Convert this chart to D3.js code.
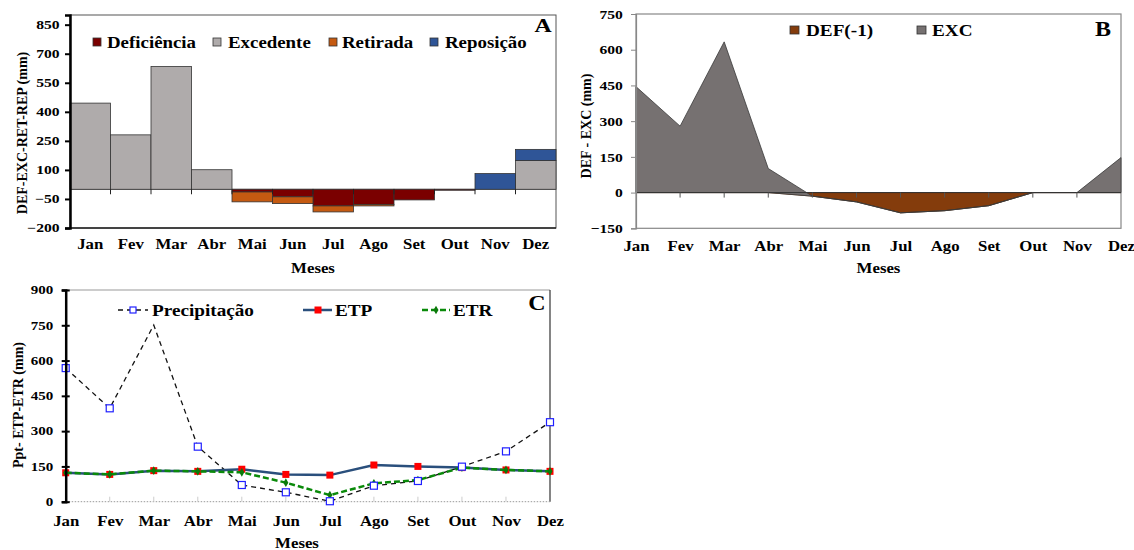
<!DOCTYPE html>
<html>
<head>
<meta charset="utf-8">
<script src="https://cdn.jsdelivr.net/npm/d3@7"></script>
<style>
  body { margin: 0; background: #fff; }
  svg text { font-family: "Liberation Serif", "Times New Roman", serif; font-weight: bold; fill: #000; }
</style>
</head>
<body>
<svg id="chart" width="1134" height="550"></svg>
<script>
// months
const meses = ["Jan","Fev","Mar","Abr","Mai","Jun","Jul","Ago","Set","Out","Nov","Dez"];

// A - balance hidrico (mm)
const deficiencia = [0, 0, 0, 0, -14, -39, -86, -78, -55, -1, 0, 0];
const excedente   = [445, 281, 634, 101, 0, 0, 0, 0, 0, 0, 0, 149];
const retirada    = [0, 0, 0, 0, -51, -35, -31, -8, 0, 0, 0, 0];
const reposicao   = [0, 0, 0, 0, 0, 0, 0, 0, 0, 0, 81, 57];
const ticksA = [-200, -50, 100, 250, 400, 550, 700, 850];

// B - DEF(-1) and EXC (mm)
const defB = [0, 0, 0, 0, -15, -39, -85, -76, -55, 0, 0, 0];
const excB = [445, 279, 633, 101, 0, 0, 0, 0, 0, 0, 0, 147];
const ticksB = [-150, 0, 150, 300, 450, 600, 750];

// C - Precipitacao, ETP, ETR (mm)
const precipitacao = [568, 397, 751, 234, 71, 40, 2, 68, 88, 149, 214, 338];
const etp = [123, 116, 132, 129, 138, 116, 113, 156, 150, 145, 135, 129];
const etr = [123, 116, 132, 129, 125, 81, 28, 78, 92, 145, 135, 129];
const ticksC = [0, 150, 300, 450, 600, 750, 900];

const svg = d3.select("#chart");
svg.append("rect").attr("width", 1134).attr("height", 550).attr("fill", "#fff");

// text stretched a bit horizontally like the original picture
function txt(sel, x, y, s, size, anchor, sx) {
    return sel.append("text")
        .attr("transform", `translate(${x},${y}) scale(${sx || 1.2},1)`)
        .attr("text-anchor", anchor || "start")
        .attr("font-size", size)
        .text(s);
}
function ytitle(sel, x, y, s) {
    sel.append("text")
        .attr("transform", `translate(${x},${y}) rotate(-90)`)
        .attr("text-anchor", "middle")
        .attr("font-size", 14)
        .text(s);
}

// ================= A =================
{
    const L = 70, R = 556, T = 15, B = 228;
    const g = svg.append("g");
    const x = d3.scaleBand().domain(meses).range([L, R]).padding(0);
    const y = d3.scaleLinear().domain([-200, 900]).range([B, T]);

    const keys = ["Deficiência", "Excedente", "Retirada", "Reposição"];
    const colors = {"Deficiência": "#7a0000", "Excedente": "#afabab", "Retirada": "#c55a11", "Reposição": "#2f5597"};
    const rows = meses.map((m, i) => ({
        mes: m, "Deficiência": deficiencia[i], "Excedente": excedente[i],
        "Retirada": retirada[i], "Reposição": reposicao[i]
    }));
    const series = d3.stack().keys(keys).offset(d3.stackOffsetDiverging)(rows);

    // frame
    g.append("rect").attr("x", L).attr("y", T).attr("width", R - L).attr("height", B - T)
        .attr("fill", "none").attr("stroke", "#555").attr("stroke-width", 1);
    g.append("line").attr("x1", L).attr("x2", R).attr("y1", B).attr("y2", B)
        .attr("stroke", "#222").attr("stroke-width", 1.5);

    // zero line
    g.append("line").attr("x1", L).attr("x2", R).attr("y1", y(0)).attr("y2", y(0))
        .attr("stroke", "#666").attr("stroke-width", 1);

    series.forEach(s => {
        g.append("g").selectAll("rect").data(s.filter(d => d[1] !== d[0])).join("rect")
            .attr("x", d => x(d.data.mes))
            .attr("width", x.bandwidth())
            .attr("y", d => y(Math.max(d[0], d[1])))
            .attr("height", d => Math.max(1, Math.abs(y(d[0]) - y(d[1]))))
            .attr("fill", colors[s.key])
            .attr("stroke", "#333").attr("stroke-width", 0.8);
    });

    // category boundary ticks at zero
    g.append("g").selectAll("line").data(meses.slice(1)).join("line")
        .attr("x1", d => x(d)).attr("x2", d => x(d))
        .attr("y1", y(0)).attr("y2", y(0) + 5)
        .attr("stroke", "#222").attr("stroke-width", 1);

    // y axis
    const ya = g.append("g").attr("transform", `translate(${L},0)`)
        .call(d3.axisLeft(y).tickValues(ticksA).tickSize(5).tickPadding(3).tickFormat(d3.format("d")));
    ya.select(".domain").attr("stroke", "#000").attr("stroke-width", 2.5);
    ya.selectAll(".tick line").attr("stroke", "#000").attr("stroke-width", 2);
    ya.selectAll(".tick text").attr("font-size", 12).attr("font-family", null)
        .attr("transform", "scale(1.3,1)");

    // month labels
    const xa = g.append("g").attr("transform", `translate(0,${249 - 13})`)
        .call(d3.axisBottom(x).tickSize(0).tickPadding(3));
    xa.select(".domain").remove();
    xa.selectAll(".tick text").attr("font-size", 14).attr("font-family", null)
        .attr("transform", "scale(1.2,1)");

    txt(g, (L + R) / 2, 273, "Meses", 14, "middle");
    ytitle(g, 27, 133, "DEF-EXC-RET-REP (mm)");

    // legend
    const legX = [[93, 107], [213, 228], [329, 342], [430, 445]];
    keys.forEach((k, i) => {
        g.append("rect").attr("x", legX[i][0]).attr("y", 38).attr("width", 8).attr("height", 8)
            .attr("fill", colors[k]).attr("stroke", "#333").attr("stroke-width", 0.8);
        txt(g, legX[i][1], 47.5, k, 16, "start", 1.18);
    });
    txt(g, 543, 32, "A", 19, "middle", 1.25);
}

// ================= B =================
{
    const L = 636, R = 1121, T = 14, B = 228.3;
    const g = svg.append("g");
    const x = d3.scalePoint().domain(meses).range([L, R]);
    const y = d3.scaleLinear().domain([-150, 750]).range([B, T]);

    const rows = meses.map((m, i) => ({mes: m, def: defB[i], exc: excB[i]}));
    const series = d3.stack().keys(["def", "exc"]).offset(d3.stackOffsetNone)(rows);
    const fills = {def: "#843c0c", exc: "#767171"};
    const strokes = {def: "#5a2a08", exc: "#3a3a3a"};

    g.append("rect").attr("x", L).attr("y", T).attr("width", R - L).attr("height", B - T)
        .attr("fill", "none").attr("stroke", "#888").attr("stroke-width", 1.2);

    const area = d3.area()
        .x(d => x(d.data.mes))
        .y0(d => y(d[0]))
        .y1(d => y(d[1]));
    series.forEach(s => {
        g.append("path").datum(s).attr("d", area)
            .attr("fill", fills[s.key]).attr("stroke", strokes[s.key]).attr("stroke-width", 0.8);
    });

    // zero line with ticks
    g.append("line").attr("x1", L).attr("x2", R).attr("y1", y(0)).attr("y2", y(0))
        .attr("stroke", "#333").attr("stroke-width", 1);
    g.append("g").selectAll("line").data(meses.slice(1, 11)).join("line")
        .attr("x1", d => x(d)).attr("x2", d => x(d))
        .attr("y1", y(0)).attr("y2", y(0) + 5)
        .attr("stroke", "#555").attr("stroke-width", 1);

    const ya = g.append("g").attr("transform", `translate(${L},0)`)
        .call(d3.axisLeft(y).tickValues(ticksB).tickSize(5).tickPadding(6));
    ya.select(".domain").attr("stroke", "#888").attr("stroke-width", 1.2);
    ya.selectAll(".tick line").attr("stroke", "#888");
    ya.selectAll(".tick text").attr("font-size", 13).attr("font-family", null)
        .attr("transform", "scale(1.2,1)");

    const xa = g.append("g").attr("transform", `translate(0,${251.5 - 13})`)
        .call(d3.axisBottom(x).tickSize(0).tickPadding(3));
    xa.select(".domain").remove();
    xa.selectAll(".tick text").attr("font-size", 14).attr("font-family", null)
        .attr("transform", "scale(1.2,1)");

    txt(g, (L + R) / 2, 273, "Meses", 14, "middle");
    ytitle(g, 591, 126, "DEF - EXC (mm)");

    const leg = [["def", "DEF(-1)", 790, 806], ["exc", "EXC", 917, 932]];
    leg.forEach(l => {
        g.append("rect").attr("x", l[2]).attr("y", 26).attr("width", 9).attr("height", 8)
            .attr("fill", fills[l[0]]).attr("stroke", "#333").attr("stroke-width", 0.8);
        txt(g, l[3], 35.5, l[1], 16, "start", 1.2);
    });
    txt(g, 1103, 36, "B", 20, "middle", 1.2);
}

// ================= C =================
{
    const L = 65.7, R = 550, T = 290, B = 501.7;
    const g = svg.append("g");
    const x = d3.scalePoint().domain(meses).range([L, R]);
    const y = d3.scaleLinear().domain([0, 900]).range([B, T]);

    g.append("line").attr("x1", L).attr("x2", R).attr("y1", T).attr("y2", T)
        .attr("stroke", "#999").attr("stroke-width", 1);
    g.append("line").attr("x1", R).attr("x2", R).attr("y1", T).attr("y2", B)
        .attr("stroke", "#333").attr("stroke-width", 1.2);
    g.append("line").attr("x1", L).attr("x2", R).attr("y1", B).attr("y2", B)
        .attr("stroke", "#999").attr("stroke-width", 1).attr("stroke-dasharray", "1.5,1.5");
    g.append("g").selectAll("line").data(meses.slice(1, 11)).join("line")
        .attr("x1", d => x(d)).attr("x2", d => x(d))
        .attr("y1", B).attr("y2", B - 5)
        .attr("stroke", "#ccc").attr("stroke-width", 1);

    const line = d3.line().x((d, i) => x(meses[i])).y(d => y(d));
    const pts = arr => arr.map((v, i) => ({mes: meses[i], v: v}));

    // precipitacao
    g.append("path").datum(precipitacao).attr("d", line)
        .attr("fill", "none").attr("stroke", "#111").attr("stroke-width", 1.3)
        .attr("stroke-dasharray", "5,4");
    // ETP
    g.append("path").datum(etp).attr("d", line)
        .attr("fill", "none").attr("stroke", "#2a4f7c").attr("stroke-width", 2.5);
    g.append("g").selectAll("rect").data(pts(etp)).join("rect")
        .attr("x", d => x(d.mes) - 3.5).attr("y", d => y(d.v) - 3.5)
        .attr("width", 7).attr("height", 7).attr("fill", "#ff0000");
    // ETR
    g.append("path").datum(etr).attr("d", line)
        .attr("fill", "none").attr("stroke", "#0a8a0a").attr("stroke-width", 2.5)
        .attr("stroke-dasharray", "6,3");
    g.append("g").selectAll("path").data(pts(etr)).join("path")
        .attr("d", d3.symbol(d3.symbolDiamond, 22))
        .attr("transform", d => `translate(${x(d.mes)},${y(d.v)})`)
        .attr("fill", "#0a7a0a");
    // precip markers on top (no marker at the March peak in the original)
    g.append("g").selectAll("rect").data(pts(precipitacao).filter(d => d.mes !== "Mar")).join("rect")
        .attr("x", d => x(d.mes) - 3.5).attr("y", d => y(d.v) - 3.5)
        .attr("width", 7).attr("height", 7)
        .attr("fill", "#fff").attr("stroke", "#2020ff").attr("stroke-width", 1.2);

    const ya = g.append("g").attr("transform", `translate(${L},0)`)
        .call(d3.axisLeft(y).tickValues(ticksC).tickSize(4).tickPadding(6));
    ya.select(".domain").attr("stroke", "#000").attr("stroke-width", 2.5);
    ya.selectAll(".tick line").attr("stroke", "#000").attr("stroke-width", 2).attr("x2", -4).attr("x1", 4);
    ya.selectAll(".tick text").attr("font-size", 12).attr("font-family", null)
        .attr("transform", "scale(1.25,1)");

    const xa = g.append("g").attr("transform", `translate(0,${526 - 13})`)
        .call(d3.axisBottom(x).tickSize(0).tickPadding(3));
    xa.select(".domain").remove();
    xa.selectAll(".tick text").attr("font-size", 14).attr("font-family", null)
        .attr("transform", "scale(1.2,1)");

    txt(g, 297, 548, "Meses", 14, "middle");
    ytitle(g, 23, 405, "Ppt- ETP-ETR (mm)");

    // legend
    const ly = 310;
    // precipitacao
    g.append("line").attr("x1", 118).attr("x2", 148).attr("y1", ly).attr("y2", ly)
        .attr("stroke", "#111").attr("stroke-width", 1.3).attr("stroke-dasharray", "5,4");
    g.append("rect").attr("x", 130).attr("y", ly - 3).attr("width", 6).attr("height", 6)
        .attr("fill", "#fff").attr("stroke", "#2020ff").attr("stroke-width", 1.2);
    txt(g, 152, ly + 5.5, "Precipitação", 16, "start", 1.2);
    // ETP
    g.append("line").attr("x1", 303).attr("x2", 332).attr("y1", ly).attr("y2", ly)
        .attr("stroke", "#2a4f7c").attr("stroke-width", 2.5);
    g.append("rect").attr("x", 314.5).attr("y", ly - 3.5).attr("width", 7).attr("height", 7)
        .attr("fill", "#ff0000");
    txt(g, 335, ly + 5.5, "ETP", 16, "start", 1.2);
    // ETR
    g.append("line").attr("x1", 422).attr("x2", 450).attr("y1", ly).attr("y2", ly)
        .attr("stroke", "#0a8a0a").attr("stroke-width", 2.5).attr("stroke-dasharray", "6,3");
    g.append("path").attr("d", d3.symbol(d3.symbolDiamond, 22))
        .attr("transform", `translate(436,${ly})`).attr("fill", "#0a7a0a");
    txt(g, 453, ly + 5.5, "ETR", 16, "start", 1.2);

    txt(g, 537, 310, "C", 20, "middle", 1.2);
}
</script>
</body>
</html>
